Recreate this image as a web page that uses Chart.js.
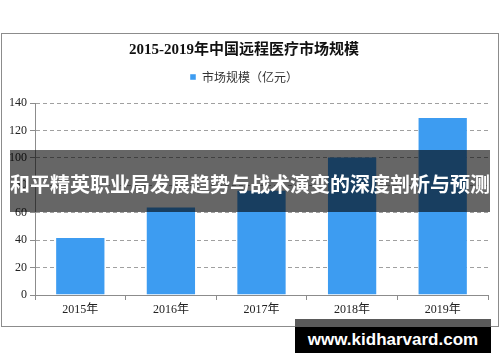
<!DOCTYPE html>
<html>
<head>
<meta charset="utf-8">
<script src="https://cdn.jsdelivr.net/npm/chart.js@4.4.1/dist/chart.umd.min.js"></script>
<style>
  body { margin: 0; background: #fff; }
  #wrap { position: relative; width: 500px; height: 362px; overflow: hidden; }
  #band {
    position: absolute; left: 10px; top: 150px; width: 480px; height: 62px;
    background: rgba(0, 0, 0, 0.6); color: #fff;
    font: bold 20px "Noto Sans CJK SC", sans-serif;
    line-height: 62px; text-align: center; white-space: nowrap;
    padding-top: 3px; box-sizing: border-box;
  }
  #site {
    position: absolute; left: 295px; top: 319px; width: 196px; height: 34px;
    border-top: 8px solid #5a5a5a; background: #000; color: #fff; box-sizing: border-box;
    font: bold 17px "Liberation Sans", Arial, sans-serif;
    line-height: 26px; text-align: center; white-space: nowrap;
  }
</style>
</head>
<body>
<div id="wrap">
  <canvas id="chart" width="500" height="362"></canvas>
  <div id="band">和平精英职业局发展趋势与战术演变的深度剖析与预测</div>
  <div id="site">www.kidharvard.com</div>
</div>
<script>
const years = ["2015年", "2016年", "2017年", "2018年", "2019年"];
const marketSize = [42.3, 64.6, 76.8, 101, 129.8];
const chartTitle = "2015-2019年中国远程医疗市场规模";
const seriesName = "市场规模（亿元）";

const serif = "'Liberation Serif', 'Noto Sans CJK SC', serif";

// outer grey frame round the whole chart
const framePlugin = {
  id: "frame",
  beforeDraw(chart) {
    const ctx = chart.ctx;
    ctx.save();
    ctx.fillStyle = "#fff";
    ctx.fillRect(0, 0, chart.width, chart.height);
    ctx.strokeStyle = "#8c8c8c";
    ctx.lineWidth = 1;
    ctx.strokeRect(1.5, 33.5, 497, 293);
    ctx.restore();
  }
};

new Chart(document.getElementById("chart"), {
  type: "bar",
  data: {
    labels: years,
    datasets: [{
      label: seriesName,
      data: marketSize,
      backgroundColor: "#3d9cf1",
      borderColor: "rgba(255,255,255,0.45)",
      borderWidth: 1,
      categoryPercentage: 1,
      barPercentage: 0.555
    }]
  },
  options: {
    responsive: false,
    animation: false,
    layout: { padding: { top: 33, right: 12, bottom: 0, left: 0 } },
    plugins: {
      title: {
        display: true,
        text: chartTitle,
        color: "#111",
        font: { family: serif, size: 15, weight: "bold" },
        padding: { top: 8, bottom: 2 }
      },
      legend: {
        labels: {
          boxWidth: 6,
          boxHeight: 6,
          padding: 10,
          color: "#333",
          font: { family: "'Noto Sans CJK SC', sans-serif", size: 12 }
        }
      },
      tooltip: { enabled: false }
    },
    scales: {
      gap: {
        type: "category",
        position: "top",
        grid: { display: false },
        border: { display: false },
        ticks: { display: false },
        afterFit(s) { s.height = 10; }
      },
      x: {
        grid: { drawOnChartArea: false, tickLength: 5, color: "#8c8c8c", offset: true },
        border: { color: "#8c8c8c" },
        ticks: { color: "#222", padding: 3, font: { family: serif, size: 12 } },
        afterFit(s) { s.height = 67; }
      },
      y: {
        min: 0,
        max: 140,
        ticks: { stepSize: 20, color: "#222", padding: 3, font: { family: serif, size: 12 } },
        grid: { color: "#a0a0a0", tickLength: 5, tickColor: "#8c8c8c" },
        border: { color: "#8c8c8c", dash: [4, 3] },
        afterFit(s) { s.width = 35; }
      }
    }
  },
  plugins: [framePlugin]
});
</script>
</body>
</html>
